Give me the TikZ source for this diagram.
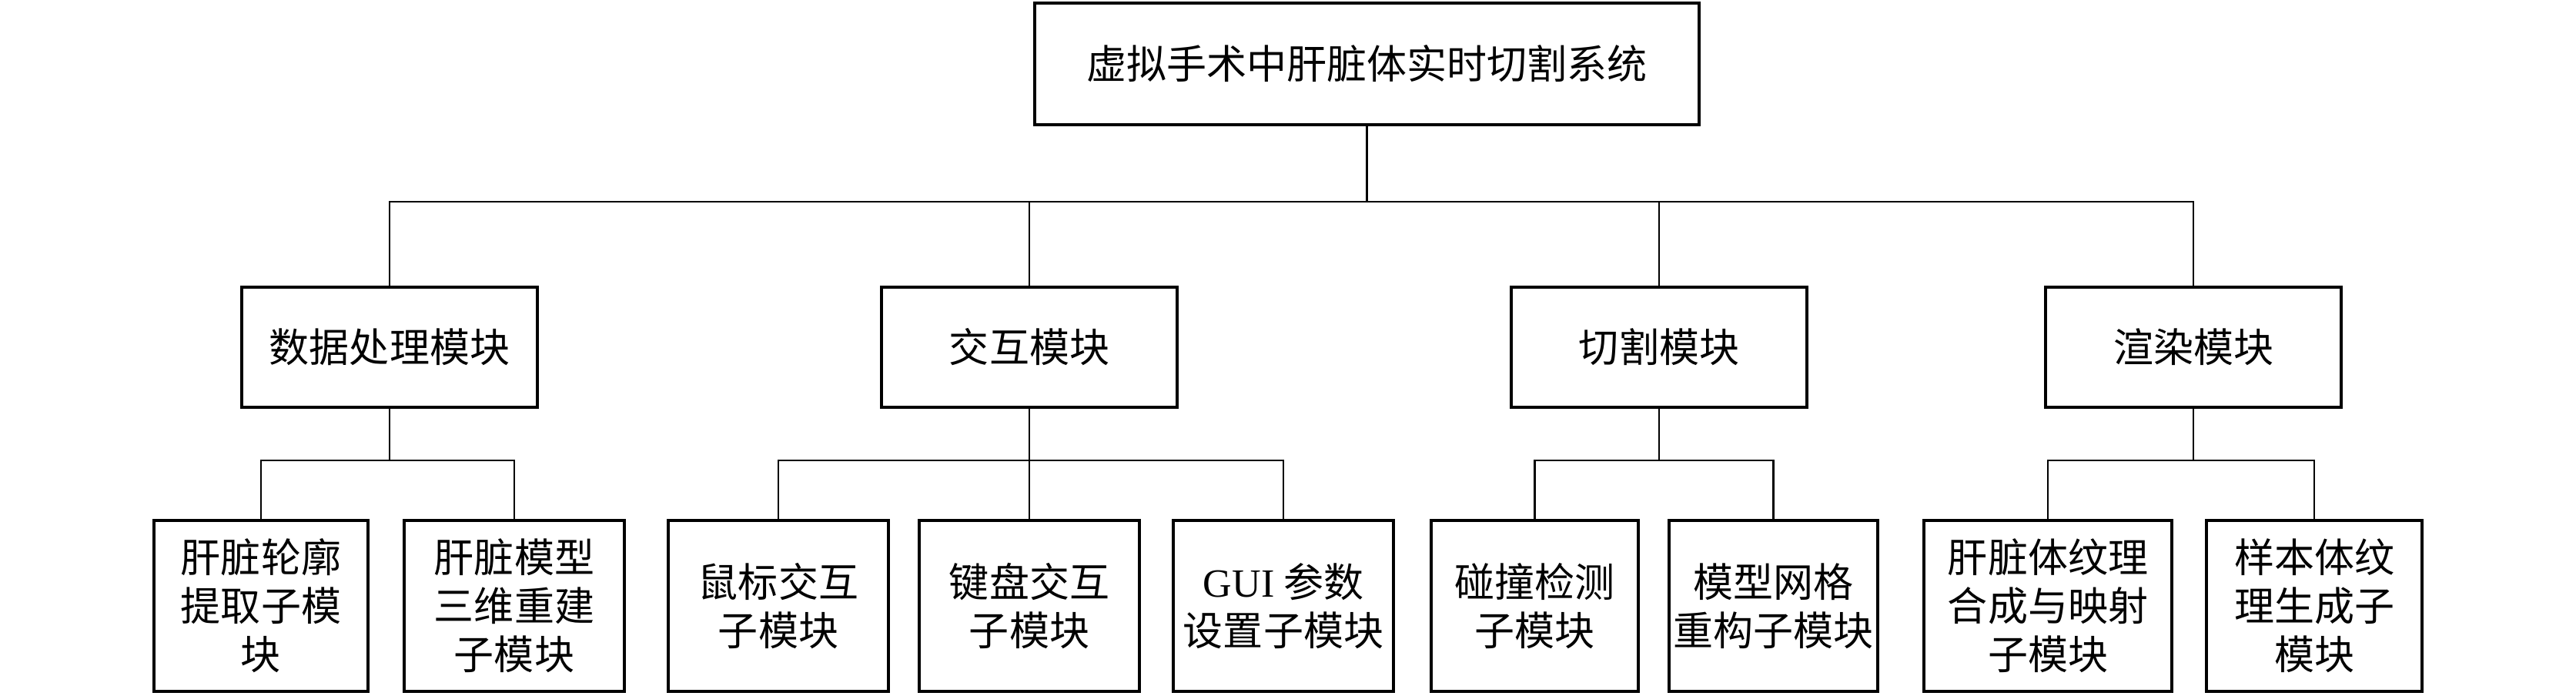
\documentclass[tikz,border=0pt]{standalone}
\usepackage{fontspec}
\setmainfont{Liberation Serif}
\newfontfamily\cjk{Noto Sans CJK SC}
\usepackage{tikz}
\tikzstyle{mybox} = [draw=black, line width=1pt, rectangle, inner sep=0pt, align=center, font=\cjk\fontsize{14.8pt}{17.9pt}\selectfont]
\tikzstyle{topbox} = [mybox, minimum width=8.63cm, minimum height=1.58cm]
\tikzstyle{modbox} = [mybox, minimum width=3.84cm, minimum height=1.56cm]
\tikzstyle{leafbox} = [mybox, minimum height=2.22cm]
\tikzstyle{link} = [line width=0.7pt]

\begin{document}
\begin{tikzpicture}
\useasboundingbox (0,0) rectangle (33.46,-9.04);
% system
\node [topbox] (root) at (17.755,-0.83) {虚拟手术中肝脏体实时切割系统};
% modules
\node [modbox] (m1) at (5.06,-4.51) {数据处理模块};
\node [modbox] (m2) at (13.37,-4.51) {交互模块};
\node [modbox] (m3) at (21.55,-4.51) {切割模块};
\node [modbox] (m4) at (28.49,-4.51) {渲染模块};
% sub-modules
\node [leafbox, minimum width=2.78cm] (l1) at (3.39,-7.87) {肝脏轮廓\\提取子模\\块};
\node [leafbox, minimum width=2.86cm] (l2) at (6.68,-7.87) {肝脏模型\\三维重建\\子模块};
\node [leafbox, minimum width=2.86cm] (l3) at (10.11,-7.87) {鼠标交互\\子模块};
\node [leafbox, minimum width=2.86cm] (l4) at (13.37,-7.87) {键盘交互\\子模块};
\node [leafbox, minimum width=2.86cm] (l5) at (16.67,-7.87) {{\rmfamily GUI} 参数\\设置子模块};
\node [leafbox, minimum width=2.69cm] (l6) at (19.935,-7.87) {碰撞检测\\子模块};
\node [leafbox, minimum width=2.71cm] (l7) at (23.035,-7.87) {模型网格\\重构子模块};
\node [leafbox, minimum width=3.22cm] (l8) at (26.60,-7.87) {肝脏体纹理\\合成与映射\\子模块};
\node [leafbox, minimum width=2.80cm] (l9) at (30.06,-7.87) {样本体纹\\理生成子\\模块};
% connectors
\coordinate (bus) at (17.755,-2.62);
\draw [link] (root.south) -- (bus);
\foreach \m in {m1,m2,m3,m4}
    \draw [link] (\m.north) |- (bus);
\coordinate (j1) at (5.06,-5.98);
\coordinate (j2) at (13.37,-5.98);
\coordinate (j3) at (21.55,-5.98);
\coordinate (j4) at (28.49,-5.98);
\foreach \m/\j in {m1/j1,m2/j2,m3/j3,m4/j4}
    \draw [link] (\m.south) -- (\j);
\foreach \l/\j in {l1/j1,l2/j1,l3/j2,l4/j2,l5/j2,l6/j3,l7/j3,l8/j4,l9/j4}
    \draw [link] (\l.north) |- (\j);
\end{tikzpicture}
\end{document}
